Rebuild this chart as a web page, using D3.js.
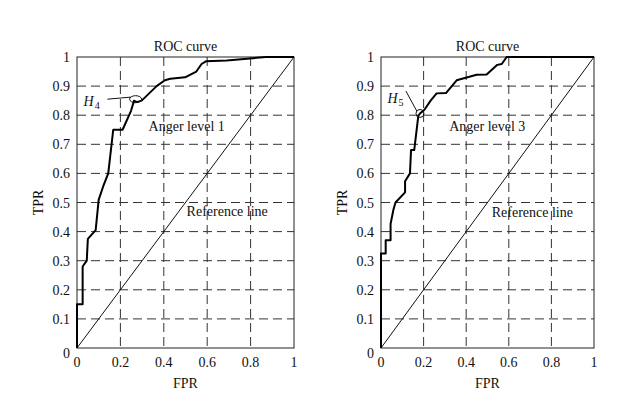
<!DOCTYPE html>
<html>
<head>
<meta charset="utf-8">
<script src="https://d3js.org/d3.v7.min.js"></script>
<style>
  body { margin: 0; background: #fff; }
  svg { display: block; }
  text { font-family: "Liberation Serif", "Times New Roman", serif; fill: #111; }
</style>
</head>
<body>
<div id="chart"></div>
<script>
// ROC curves for two anger levels
const ticks = [0, 0.2, 0.4, 0.6, 0.8, 1];
const yTicks = [0, 0.1, 0.2, 0.3, 0.4, 0.5, 0.6, 0.7, 0.8, 0.9, 1];
const tickLabels = ["0", "0.2", "0.4", "0.6", "0.8", "1"];
const yTickLabels = ["0", "0.1", "0.2", "0.3", "0.4", "0.5", "0.6", "0.7", "0.8", "0.9", "1"];

const level1Fpr = [0, 0, 0.026, 0.026, 0.045, 0.05, 0.086, 0.10, 0.121, 0.144, 0.167, 0.21, 0.249, 0.263, 0.275, 0.298, 0.367, 0.405, 0.43, 0.498, 0.55, 0.574, 0.594, 0.69, 0.81, 0.87, 1];
const level1Tpr = [0, 0.15, 0.15, 0.28, 0.30, 0.375, 0.405, 0.51, 0.556, 0.60, 0.75, 0.75, 0.815, 0.85, 0.845, 0.85, 0.90, 0.92, 0.925, 0.93, 0.95, 0.976, 0.985, 0.988, 0.996, 1, 1];

const level3Fpr = [0, 0, 0.022, 0.022, 0.045, 0.045, 0.058, 0.068, 0.113, 0.113, 0.136, 0.141, 0.156, 0.175, 0.183, 0.203, 0.233, 0.261, 0.305, 0.355, 0.449, 0.496, 0.546, 0.567, 0.59, 1];
const level3Tpr = [0, 0.325, 0.325, 0.37, 0.37, 0.426, 0.474, 0.50, 0.535, 0.573, 0.60, 0.68, 0.68, 0.797, 0.806, 0.818, 0.85, 0.875, 0.876, 0.92, 0.939, 0.94, 0.973, 0.976, 1, 1];

const panels = [
  { fpr: level1Fpr, tpr: level1Tpr, left: 77, right: 294, name: "Anger level 1",
    nameAt: [0.33, 0.745], refAt: [0.505, 0.455],
    mark: { at: [0.27, 0.855], sub: "4", rx: 6, ry: 3.5, label: [0.03, 0.85], lineFrom: [0.14, 0.855] } },
  { fpr: level3Fpr, tpr: level3Tpr, left: 381, right: 594, name: "Anger level 3",
    nameAt: [0.32, 0.745], refAt: [0.52, 0.45],
    mark: { at: [0.183, 0.806], sub: "5", rx: 4, ry: 4, label: [0.03, 0.86], lineFrom: [0.117, 0.883] } }
];

const width = 625, height = 394;
const plotTop = 57, plotBottom = 348;

const svg = d3.select('#chart').append('svg')
  .attr('width', width)
  .attr('height', height);

panels.forEach(p => {
  const x = d3.scaleLinear().domain([0, 1]).range([p.left, p.right]);
  const y = d3.scaleLinear().domain([0, 1]).range([plotBottom, plotTop]);
  const g = svg.append('g');

  // dashed grid
  g.append('g').selectAll('line')
    .data(ticks.slice(1, -1))
    .join('line')
    .attr('x1', d => x(d)).attr('x2', d => x(d))
    .attr('y1', plotTop).attr('y2', plotBottom)
    .attr('stroke', '#333').attr('stroke-width', 1)
    .attr('stroke-dasharray', '9,5');
  g.append('g').selectAll('line')
    .data(yTicks.slice(1, -1))
    .join('line')
    .attr('y1', d => y(d)).attr('y2', d => y(d))
    .attr('x1', p.left).attr('x2', p.right)
    .attr('stroke', '#333').attr('stroke-width', 1)
    .attr('stroke-dasharray', '9,5');

  // frame
  g.append('rect')
    .attr('x', p.left).attr('y', plotTop)
    .attr('width', p.right - p.left).attr('height', plotBottom - plotTop)
    .attr('fill', 'none').attr('stroke', '#222').attr('stroke-width', 1);

  // tick labels
  g.append('g').selectAll('text')
    .data(ticks)
    .join('text')
    .attr('x', d => x(d))
    .attr('y', plotBottom + 19)
    .attr('text-anchor', 'middle')
    .attr('font-size', 14)
    .text((d, i) => tickLabels[i]);
  g.append('g').selectAll('text')
    .data(yTicks)
    .join('text')
    .attr('x', p.left - 7)
    .attr('y', d => d === 0 ? y(d) + 10 : y(d) + 5)
    .attr('text-anchor', 'end')
    .attr('font-size', 14)
    .text((d, i) => yTickLabels[i]);

  // axis titles
  g.append('text')
    .attr('x', (p.left + p.right) / 2).attr('y', plotTop - 6)
    .attr('text-anchor', 'middle').attr('font-size', 14)
    .text('ROC curve');
  g.append('text')
    .attr('x', (p.left + p.right) / 2).attr('y', plotBottom + 40)
    .attr('text-anchor', 'middle').attr('font-size', 14)
    .text('FPR');
  g.append('text')
    .attr('transform', `translate(${p.left - 34},${y(0.5)}) rotate(-90)`)
    .attr('text-anchor', 'middle').attr('font-size', 14)
    .text('TPR');

  // reference line
  g.append('line')
    .attr('x1', x(0)).attr('y1', y(0))
    .attr('x2', x(1)).attr('y2', y(1))
    .attr('stroke', '#111').attr('stroke-width', 1);

  // ROC curve
  const pts = p.fpr.map((f, i) => [f, p.tpr[i]]);
  g.append('path')
    .datum(pts)
    .attr('d', d3.line().x(d => x(d[0])).y(d => y(d[1])))
    .attr('fill', 'none')
    .attr('stroke', '#000')
    .attr('stroke-width', 2)
    .attr('stroke-linejoin', 'round');

  // annotations
  g.append('text')
    .attr('x', x(p.nameAt[0])).attr('y', y(p.nameAt[1]))
    .attr('font-size', 14)
    .text(p.name);
  g.append('text')
    .attr('x', x(p.refAt[0])).attr('y', y(p.refAt[1]))
    .attr('font-size', 14)
    .text('Reference line');

  const m = p.mark;
  g.append('ellipse')
    .attr('cx', x(m.at[0])).attr('cy', y(m.at[1]))
    .attr('rx', m.rx).attr('ry', m.ry)
    .attr('fill', 'none').attr('stroke', '#111').attr('stroke-width', 1);
  g.append('line')
    .attr('x1', x(m.lineFrom[0])).attr('y1', y(m.lineFrom[1]))
    .attr('x2', x(m.at[0]) - m.rx * 0.8).attr('y2', y(m.at[1]) - m.ry * 0.6)
    .attr('stroke', '#111').attr('stroke-width', 1);
  const lbl = g.append('text')
    .attr('x', x(m.label[0])).attr('y', y(m.label[1]) + 5)
    .attr('font-size', 14);
  lbl.append('tspan').attr('font-style', 'italic').text('H');
  lbl.append('tspan').attr('font-size', 10).attr('dy', 3).attr('dx', 1).text(m.sub);
});
</script>
</body>
</html>
